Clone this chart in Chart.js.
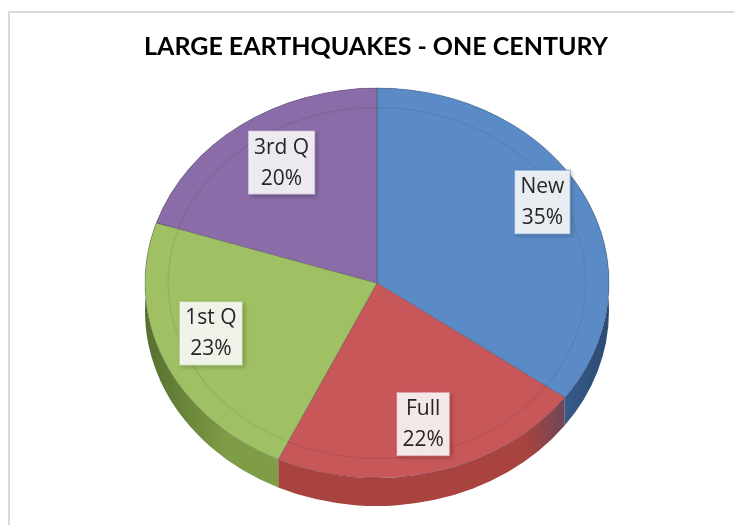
<!DOCTYPE html>
<html>
<head>
<meta charset="utf-8">
<script src="https://cdn.jsdelivr.net/npm/chart.js@4/dist/chart.umd.min.js"></script>
<style>
  html, body { margin: 0; padding: 0; background: #fff; overflow: hidden; }
  canvas { display: block; }
</style>
</head>
<body>
<canvas id="quakeChart" width="734" height="525"></canvas>
<script>
// Slices, clockwise from 12 o'clock
const phases = ['New', 'Full', '1st Q', '3rd Q'];
const shares = [35, 22, 23, 20];

const faceColors = ['#5b8bc6', '#c8575a', '#9fc163', '#8a6ca8'];
const wallColors = ['#3e6aa0', '#a9433f', '#7f9d47', '#6a4f88'];
// how far out along each slice its label box sits (fraction of radius)
const labelReach = [0.8, 0.8, 0.78, 0.7];

// where the tilted pie lands on the page
const FACE = { x: 377, y: 283, rx: 232, ry: 195, depth: 28 };

// Light gray frame around the chart
const frame = {
    id: 'frame',
    beforeDraw(chart) {
        const ctx = chart.ctx;
        ctx.save();
        ctx.strokeStyle = '#d9d9d9';
        ctx.lineWidth = 2;
        ctx.beginPath();
        ctx.moveTo(9, 525);
        ctx.lineTo(9, 12);
        ctx.lineTo(734, 12);
        ctx.stroke();
        ctx.restore();
    }
};

// Squash the pie into an ellipse and give it a side wall
const tilt = {
    id: 'tilt',
    beforeDatasetsDraw(chart) {
        const ctx = chart.ctx;
        const arcs = chart.getDatasetMeta(0).data;
        const cx = arcs[0].x, cy = arcs[0].y, R = arcs[0].outerRadius;
        ctx.save();
        ctx.translate(FACE.x, FACE.y);
        ctx.scale(FACE.rx / R, FACE.ry / R);
        ctx.translate(-cx, -cy);

        const off = FACE.depth * R / FACE.ry;
        arcs.forEach((arc, i) => {
            const g = ctx.createLinearGradient(cx - R, 0, cx + R, 0);
            g.addColorStop(0, '#55702e');
            g.addColorStop(0.18, wallColors[i]);
            g.addColorStop(0.82, wallColors[i]);
            g.addColorStop(1, '#2c4a72');
            ctx.beginPath();
            ctx.arc(cx, cy + off, R, arc.startAngle, arc.endAngle);
            ctx.arc(cx, cy, R, arc.endAngle, arc.startAngle, true);
            ctx.closePath();
            ctx.fillStyle = g;
            ctx.fill();
        });
    },
    afterDatasetsDraw(chart) {
        const ctx = chart.ctx;
        const arcs = chart.getDatasetMeta(0).data;
        const cx = arcs[0].x, cy = arcs[0].y, R = arcs[0].outerRadius;

        // faint bevel ring on the top face
        ctx.beginPath();
        ctx.arc(cx, cy, R * 0.9, 0, Math.PI * 2);
        ctx.strokeStyle = 'rgba(0,0,0,0.07)';
        ctx.lineWidth = 1.5;
        ctx.stroke();
        ctx.restore();

        // label boxes
        const total = shares.reduce((a, b) => a + b, 0);
        ctx.save();
        ctx.font = '21px "Open Sans"';
        ctx.textAlign = 'center';
        ctx.textBaseline = 'middle';
        arcs.forEach((arc, i) => {
            const mid = (arc.startAngle + arc.endAngle) / 2;
            const x = FACE.x + FACE.rx * labelReach[i] * Math.cos(mid);
            const y = FACE.y + FACE.ry * labelReach[i] * Math.sin(mid) - 10;
            const pct = Math.round(shares[i] / total * 100) + '%';
            const w = Math.max(ctx.measureText(phases[i]).width, ctx.measureText(pct).width) + 12;
            const h = 64;

            ctx.save();
            ctx.shadowColor = 'rgba(0,0,0,0.28)';
            ctx.shadowBlur = 4;
            ctx.shadowOffsetX = 2;
            ctx.shadowOffsetY = 2;
            ctx.fillStyle = 'rgba(255,255,255,0.88)';
            ctx.fillRect(x - w / 2, y - h / 2, w, h);
            ctx.restore();

            ctx.globalAlpha = 0.5;
            ctx.strokeStyle = faceColors[i];
            ctx.lineWidth = 1.5;
            ctx.strokeRect(x - w / 2, y - h / 2, w, h);
            ctx.globalAlpha = 1;

            ctx.fillStyle = '#262626';
            ctx.fillText(phases[i], x, y - 15);
            ctx.fillText(pct, x, y + 16);
        });
        ctx.restore();
    }
};

new Chart(document.getElementById('quakeChart'), {
    type: 'pie',
    data: {
        labels: phases,
        datasets: [{
            data: shares,
            backgroundColor: faceColors,
            borderColor: 'rgba(40,40,60,0.25)',
            borderWidth: 1
        }]
    },
    options: {
        responsive: false,
        animation: false,
        events: [],
        layout: { padding: { left: 18, right: 0, top: 0, bottom: 0 } },
        plugins: {
            legend: { display: false },
            tooltip: { enabled: false },
            title: {
                display: true,
                text: 'LARGE EARTHQUAKES - ONE CENTURY',
                color: '#000',
                font: { family: 'Lato, sans-serif', size: 25, weight: 'bold' },
                padding: { top: 32, bottom: 10 }
            }
        }
    },
    plugins: [frame, tilt]
});
</script>
</body>
</html>
